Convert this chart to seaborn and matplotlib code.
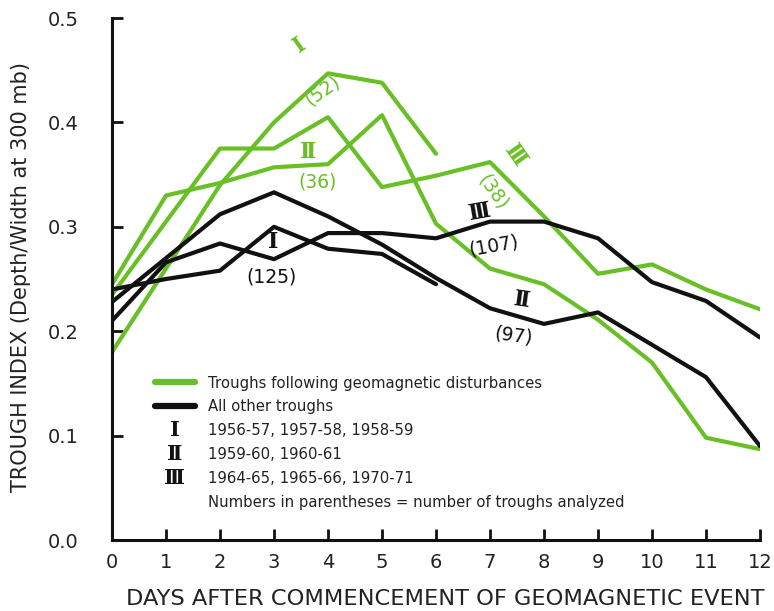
import matplotlib
matplotlib.use('Agg')
import matplotlib.pyplot as plt
import seaborn as sns
import pandas as pd
from matplotlib.lines import Line2D
from matplotlib.text import Text
from matplotlib.legend_handler import HandlerBase

# values (trough index per day after the event)
days = list(range(13))
green_I = [0.18, 0.26, 0.34, 0.40, 0.447, 0.438, 0.37]
green_II = [0.245, 0.33, 0.342, 0.357, 0.36, 0.407, 0.303, 0.26, 0.245, 0.211, 0.17, 0.098, 0.087]
green_III = [0.235, 0.305, 0.375, 0.375, 0.405, 0.338, 0.349, 0.362, 0.31, 0.255, 0.264, 0.24, 0.221]
black_I = [0.24, 0.25, 0.258, 0.30, 0.279, 0.274, 0.245]
black_II = [0.228, 0.27, 0.312, 0.333, 0.31, 0.283, 0.251, 0.222, 0.207, 0.218, 0.187, 0.156, 0.09]
black_III = [0.21, 0.266, 0.284, 0.269, 0.294, 0.294, 0.289, 0.305, 0.305, 0.289, 0.247, 0.229, 0.194]

kinds = ['Troughs following geomagnetic disturbances', 'All other troughs']
periods = ['1956-57, 1957-58, 1958-59', '1959-60, 1960-61', '1964-65, 1965-66, 1970-71']
numerals = ['\u2160', '\u2161', '\u2162']
counts_green = ['(52)', '(36)', '(38)']
counts_black = ['(125)', '(97)', '(107)']

GREEN = '#68c026'
BLACK = '#111111'

rows = []
for kind, series in [(kinds[0], [green_I, green_II, green_III]),
                     (kinds[1], [black_I, black_II, black_III])]:
    for num, vals in zip(numerals, series):
        for d, v in zip(days, vals):
            rows.append({'day': d, 'value': v, 'kind': kind, 'period': num})
df = pd.DataFrame(rows)

sns.set_style('white')
plt.rcParams['font.family'] = ['DejaVu Sans']

fig = plt.figure(figsize=(7.74, 6.11), dpi=100)
ax = fig.add_axes([0.1447, 0.1162, 0.8372, 0.8543])

sns.lineplot(data=df, x='day', y='value', hue='kind', hue_order=kinds,
             units='period', estimator=None, sort=False,
             palette={kinds[0]: GREEN, kinds[1]: BLACK},
             lw=3, legend=False, ax=ax)

ax.set_xlim(0, 12)
ax.set_ylim(0, 0.5)
ax.set_xticks(days)
ax.set_yticks([0.0, 0.1, 0.2, 0.3, 0.4, 0.5])
ax.set_yticklabels(['0.0', '0.1', '0.2', '0.3', '0.4', '0.5'])
for s in ['top', 'right']:
    ax.spines[s].set_visible(False)
for s in ['left', 'bottom']:
    ax.spines[s].set_linewidth(2.2)
    ax.spines[s].set_color(BLACK)
ax.tick_params(axis='both', bottom=True, left=True, direction='in', length=8,
               width=2, color=BLACK, labelsize=14, labelcolor='#222222')
ax.tick_params(axis='y', pad=24)
ax.tick_params(axis='x', pad=9)

ax.set_xlabel('DAYS AFTER COMMENCEMENT OF GEOMAGNETIC EVENT', fontsize=16.2, color='#222222')
ax.set_ylabel('TROUGH INDEX (Depth/Width at 300 mb)', fontsize=15, color='#222222')
ax.xaxis.set_label_coords(0.514, -0.094)
ax.yaxis.set_label_coords(-0.125, 0.504)

# series labels
num_kw = dict(family='DejaVu Serif', fontweight='bold', ha='center', va='center')
cnt_kw = dict(ha='center', va='center', fontsize=13.5)
ax.text(3.48, 0.474, numerals[0], color=GREEN, fontsize=16, rotation=35, **num_kw)
ax.text(3.89, 0.431, counts_green[0], color=GREEN, rotation=35, **cnt_kw)
ax.text(3.63, 0.372, numerals[1], color=GREEN, fontsize=16, **num_kw)
ax.text(3.80, 0.343, counts_green[1], color=GREEN, **cnt_kw)
ax.text(7.46, 0.368, numerals[2], color=GREEN, fontsize=16, rotation=-55, **num_kw)
ax.text(7.06, 0.333, counts_green[2], color=GREEN, rotation=-55, **cnt_kw)
ax.text(2.98, 0.285, numerals[0], color=BLACK, fontsize=16, **num_kw)
ax.text(2.96, 0.252, counts_black[0], color=BLACK, **cnt_kw)
ax.text(7.59, 0.230, numerals[1], color=BLACK, fontsize=16, rotation=-8, **num_kw)
ax.text(7.43, 0.196, counts_black[1], color=BLACK, rotation=-8, **cnt_kw)
ax.text(6.81, 0.314, numerals[2], color=BLACK, fontsize=16, rotation=10, **num_kw)
ax.text(7.06, 0.282, counts_black[2], color=BLACK, rotation=10, **cnt_kw)


class TextHandler(HandlerBase):
    def create_artists(self, legend, orig_handle, xdescent, ydescent,
                       width, height, fontsize, trans):
        t = Text(width / 2 - xdescent, height / 2 - ydescent, orig_handle.get_text(),
                 ha='center', va='center', fontsize=15, fontweight='bold',
                 family='DejaVu Serif', color=BLACK, transform=trans)
        return [t]


handles = [Line2D([], [], color=GREEN, lw=4.5, solid_capstyle='round'),
           Line2D([], [], color=BLACK, lw=4.5, solid_capstyle='round')]
handles += [Text(text=n) for n in numerals]
handles.append(Text(text=''))
labels = kinds + periods + ['Numbers in parentheses = number of troughs analyzed']
ax.legend(handles, labels, handler_map={Text: TextHandler()},
          loc='upper left', bbox_to_anchor=(0.066, 0.315), frameon=False,
          fontsize=10.7, handlelength=2.7, handletextpad=0.85,
          labelspacing=0.6, borderpad=0, borderaxespad=0, labelcolor='#222222')

fig.savefig('out.png', dpi=100)
